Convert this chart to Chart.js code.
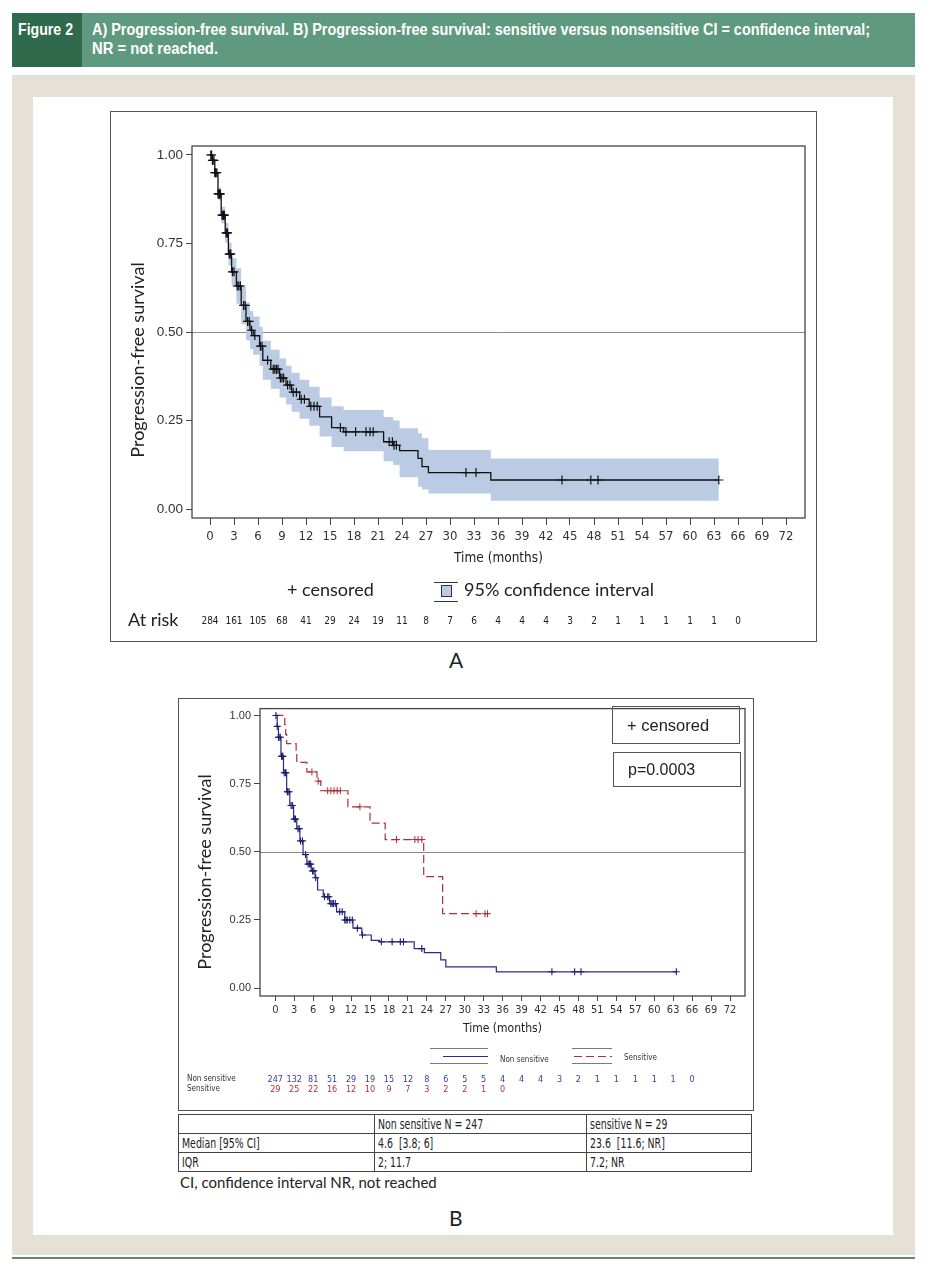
<!DOCTYPE html>
<html>
<head>
<meta charset="utf-8">
<script src="https://cdn.jsdelivr.net/npm/chart.js@4.4.0/dist/chart.umd.min.js"></script>
<style>
body{margin:0;width:930px;height:1274px;position:relative;background:#fff;overflow:hidden;font-family:'Liberation Sans',Arial,sans-serif;color:#222}
.abs{position:absolute}
.fit{white-space:nowrap;transform-origin:0 50%;display:inline-block}
#hdr{left:12px;top:13px;width:903px;height:54px;background:#5f9a80}
#fig{left:12px;top:13px;width:70px;height:54px;background:#2f6a4d}
.hd{color:#fff;font-weight:bold;font-size:16px;line-height:18px}
#beige{left:12px;top:75px;width:903px;height:1180px;background:#e5e1d6}
#panel{left:33px;top:97px;width:860px;height:1138px;background:#fff}
#bottomline{left:12px;top:1257px;width:903px;height:2px;background:#5f8a74}
.box{border:1px solid #555;box-sizing:border-box}
.lab{font-family:Lato,'Open Sans',sans-serif}
table{border-collapse:collapse;font-family:'Liberation Sans Narrow','DejaVu Sans Condensed',sans-serif;font-size:14.5px;color:#222}
td{border:1px solid #444;padding:0 0 0 3px;height:18px;line-height:17px;vertical-align:middle;white-space:nowrap;overflow:hidden}
.nar{display:inline-block;transform:scaleX(0.72);transform-origin:0 50%}
</style>
</head>
<body>
<div id="hdr" class="abs"></div>
<div id="fig" class="abs"></div>
<div class="abs hd" style="left:18px;top:21px"><span class="fit" data-w="55">Figure 2</span></div>
<div class="abs hd" style="left:92px;top:21px"><span class="fit" data-w="778">A) Progression-free survival. B) Progression-free survival: sensitive versus nonsensitive CI = confidence interval;</span></div>
<div class="abs hd" style="left:92px;top:40px"><span class="fit" data-w="126">NR = not reached.</span></div>
<div id="beige" class="abs"></div>
<div id="panel" class="abs"></div>
<div id="bottomline" class="abs"></div>

<!-- panel A -->
<div class="abs box" style="left:110px;top:111px;width:707px;height:531px"></div>
<canvas id="chartA" class="abs" width="705" height="528" style="left:111px;top:112px;width:705px;height:528px"></canvas>
<div class="abs lab" style="left:449px;top:647px;font-size:21px">A</div>

<!-- panel B -->
<div class="abs box" style="left:178px;top:698px;width:576px;height:413px"></div>
<canvas id="chartB" class="abs" width="573" height="410" style="left:179px;top:699px;width:573px;height:410px"></canvas>
<div class="abs box" style="left:612px;top:706px;width:128px;height:38px;font-size:16.5px;line-height:36px;padding-left:14px">+ censored</div>
<div class="abs box" style="left:613px;top:752px;width:128px;height:35px;font-size:16px;line-height:33px;padding-left:14px">p=0.0003</div>

<table class="abs" style="left:178px;top:1114px;width:574px">
<tr><td style="width:192px"></td><td style="width:208px"><span class="nar">Non sensitive N = 247</span></td><td><span class="nar">sensitive N = 29</span></td></tr>
<tr><td><span class="nar">Median [95% CI]</span></td><td><span class="nar">4.6&nbsp; [3.8; 6]</span></td><td><span class="nar">23.6&nbsp; [11.6; NR]</span></td></tr>
<tr><td><span class="nar">IQR</span></td><td><span class="nar">2; 11.7</span></td><td><span class="nar">7.2; NR</span></td></tr>
</table>
<div class="abs lab" style="left:180px;top:1173px;font-size:15px">CI, confidence interval NR, not reached</div>
<div class="abs lab" style="left:449px;top:1205px;font-size:21px">B</div>

<script>
// ---- Panel A: all patients ----
const xTicks = [0, 3, 6, 9, 12, 15, 18, 21, 24, 27, 30, 33, 36, 39, 42, 45, 48, 51, 54, 57, 60, 63, 66, 69, 72];
const yTicks = [0, 0.25, 0.5, 0.75, 1];

const timeA  = [0, 0.3, 0.6, 1.0, 1.4, 1.9, 2.3, 2.7, 3.3, 3.9, 4.5, 5.0, 5.4, 6.2, 6.6, 7.6, 8.7, 9.5, 10.2, 11.2, 12.4, 13.7, 15.2, 16.7, 21.7, 22.9, 23.7, 26.0, 26.5, 27.3, 35.1, 63.6];
const survA  = [1.00, 0.985, 0.95, 0.89, 0.83, 0.78, 0.72, 0.67, 0.63, 0.575, 0.53, 0.505, 0.49, 0.46, 0.42, 0.395, 0.37, 0.35, 0.33, 0.31, 0.29, 0.26, 0.23, 0.218, 0.19, 0.18, 0.165, 0.143, 0.12, 0.103, 0.082, 0.082];
const lowerA = [1.00, 0.98, 0.94, 0.872, 0.807, 0.752, 0.688, 0.632, 0.58, 0.522, 0.477, 0.451, 0.436, 0.405, 0.365, 0.34, 0.315, 0.295, 0.275, 0.255, 0.235, 0.205, 0.175, 0.163, 0.135, 0.124, 0.09, 0.063, 0.055, 0.044, 0.023, 0.023];
const upperA = [1.00, 0.99, 0.96, 0.908, 0.853, 0.808, 0.752, 0.708, 0.68, 0.628, 0.583, 0.559, 0.544, 0.515, 0.475, 0.45, 0.425, 0.405, 0.385, 0.365, 0.345, 0.315, 0.29, 0.28, 0.26, 0.25, 0.228, 0.214, 0.2, 0.167, 0.143, 0.143];
const censorA = [0.1, 0.2, 0.3, 0.35, 0.5, 0.6, 0.7, 0.85, 1.0, 1.1, 1.2, 1.3, 1.5, 1.6, 1.7, 1.8, 2.0, 2.1, 2.2, 2.4, 2.5, 2.6, 2.8, 3.0, 3.4, 3.6, 3.8, 4.2, 4.4, 4.7, 4.9, 5.2, 5.6, 6.3, 6.5, 7.2, 7.9, 8.1, 8.3, 8.5, 8.8, 9.0, 9.2, 9.7, 10.0, 10.4, 10.8, 11.4, 11.8, 12.6, 13.0, 13.4, 16.3, 17.0, 18.2, 19.5, 20.0, 20.4, 22.4, 22.8, 23.0, 23.3, 32.0, 33.25, 44.0, 47.6, 48.5, 63.6];
const atRiskA = [284, 161, 105, 68, 41, 29, 24, 19, 11, 8, 7, 6, 4, 4, 4, 3, 2, 1, 1, 1, 1, 1, 0];

// ---- Panel B: non sensitive vs sensitive ----
const timeNS = [0, 0.3, 0.5, 0.9, 1.3, 1.8, 2.3, 2.9, 3.4, 3.9, 4.4, 5.0, 5.7, 6.3, 6.7, 7.6, 8.6, 9.7, 11.0, 12.3, 13.7, 15.2, 16.5, 22.0, 23.6, 26.2, 27.0, 35.0, 63.5];
const survNS = [1.0, 0.96, 0.92, 0.85, 0.79, 0.72, 0.67, 0.62, 0.585, 0.54, 0.49, 0.455, 0.43, 0.405, 0.36, 0.335, 0.31, 0.28, 0.25, 0.22, 0.195, 0.175, 0.17, 0.145, 0.13, 0.104, 0.078, 0.06, 0.06];
const censorNS = [0.1, 0.3, 0.5, 0.6, 0.8, 1.0, 1.1, 1.2, 1.4, 1.6, 1.7, 1.9, 2.0, 2.2, 2.5, 2.7, 3.0, 3.2, 3.6, 3.8, 4.0, 4.3, 4.8, 5.2, 5.4, 5.6, 5.9, 6.1, 6.4, 7.8, 8.3, 8.5, 8.8, 9.0, 9.2, 9.5, 10.2, 10.6, 11.0, 11.2, 11.4, 11.8, 12.2, 13.0, 13.8, 16.8, 18.5, 19.8, 20.3, 23.2, 43.8, 47.4, 48.4, 63.5];
const timeS  = [0, 1.5, 1.65, 1.8, 3.3, 3.4, 5.0, 6.6, 7.2, 11.5, 15.0, 17.4, 23.5, 26.5, 33.6];
const survS  = [1.0, 0.966, 0.931, 0.897, 0.862, 0.828, 0.793, 0.759, 0.724, 0.665, 0.605, 0.545, 0.409, 0.273, 0.273];
const censorS = [5.8, 6.8, 8.3, 8.8, 9.3, 9.8, 10.3, 13.4, 19.2, 22.1, 22.6, 23.2, 31.8, 33.2, 33.6];
const atRiskNS = [247, 132, 81, 51, 29, 19, 15, 12, 8, 6, 5, 5, 4, 4, 4, 3, 2, 1, 1, 1, 1, 1, 0];
const atRiskS  = [29, 25, 22, 16, 12, 10, 9, 7, 3, 2, 2, 1, 0];

const BAND = 'rgb(186,203,227)';
const NAVY = 'rgb(42,42,140)';
const RED = 'rgb(168,48,58)';
const COND = "'Liberation Sans Narrow','DejaVu Sans Condensed',sans-serif";
const LATO = "Lato,'Open Sans',sans-serif";

// fit header text to the widths seen in the figure
document.querySelectorAll('.fit').forEach(el => {
	const w = el.getBoundingClientRect().width;
	el.style.transform = 'scaleX(' + (el.dataset.w / w) + ')';
});

function survAt(times, surv, t) {
	let s = surv[0];
	for (let i = 0; i < times.length; i++) if (times[i] <= t) s = surv[i];
	return s;
}
function pts(times, vals) {
	return times.map((t, i) => ({x: t, y: vals[i]}));
}
function censorPts(list, times, surv) {
	return list.map(t => ({x: t, y: survAt(times, surv, t)}));
}

//frame around plot + grey line at 0.5
const framePlugin = {
	id: 'frameRef',
	beforeDatasetsDraw(chart) {
		const {ctx, chartArea: a, scales: {y}} = chart;
		const yy = Math.round(y.getPixelForValue(0.5)) + 0.5;
		ctx.save();
		ctx.strokeStyle = '#8a8a8a';
		ctx.lineWidth = 1;
		ctx.beginPath(); ctx.moveTo(a.left, yy); ctx.lineTo(a.right, yy); ctx.stroke();
		ctx.restore();
	},
	afterDatasetsDraw(chart) {
		const {ctx, chartArea: a} = chart;
		ctx.save();
		ctx.strokeStyle = '#444';
		ctx.lineWidth = 1.3;
		ctx.strokeRect(a.left, a.top, a.right - a.left, a.bottom - a.top);
		ctx.restore();
	}
};

function axes(o) {
	return {
		x: {
			type: 'linear', min: o.xmin, max: o.xmax,
			afterBuildTicks: s => { s.ticks = xTicks.map(v => ({value: v})); },
			afterFit: s => { s.height = o.xh; },
			ticks: {font: {family: COND, size: o.xf}, color: '#333', padding: o.xpad, maxRotation: 0, autoSkip: false},
			grid: {drawOnChartArea: false, tickLength: o.tl, color: '#444', lineWidth: 1},
			border: {display: false}
		},
		y: {
			type: 'linear', min: o.ymin, max: o.ymax,
			afterBuildTicks: s => { s.ticks = yTicks.map(v => ({value: v})); },
			afterFit: s => { s.width = o.yw; },
			ticks: {font: {family: "'Liberation Sans',Arial,sans-serif", size: o.yf}, color: '#333', padding: 3,
				callback: v => Number(v).toFixed(2)},
			grid: {drawOnChartArea: false, tickLength: 6, color: '#444', lineWidth: 1},
			border: {display: false}
		}
	};
}

// ---------- chart A ----------
const textA = {
	id: 'textA',
	afterDraw(chart) {
		const {ctx, chartArea: a, scales: {x}} = chart;
		ctx.save();
		ctx.fillStyle = '#222';
		ctx.textBaseline = 'middle';
		// y title
		ctx.save();
		ctx.translate(27, 248);
		ctx.rotate(-Math.PI / 2);
		ctx.textAlign = 'center';
		ctx.font = '18px ' + LATO;
		ctx.fillText('Progression-free survival', 0, 0);
		ctx.restore();
		// x title
		ctx.textAlign = 'center';
		ctx.font = '13.5px ' + COND;
		ctx.fillText('Time (months)', (a.left + a.right) / 2, 446);
		// legend
		ctx.textAlign = 'left';
		ctx.font = '18px ' + LATO;
		ctx.fillText('+ censored', 176, 478);
		ctx.fillText('95% confidence interval', 353, 478);
		ctx.strokeStyle = '#333';
		ctx.lineWidth = 1;
		ctx.beginPath();
		ctx.moveTo(323, 470.5); ctx.lineTo(347, 470.5);
		ctx.moveTo(323, 489.5); ctx.lineTo(347, 489.5);
		ctx.stroke();
		ctx.fillStyle = BAND;
		ctx.fillRect(330.5, 473.5, 10, 11);
		ctx.strokeRect(330.5, 473.5, 10, 11);
		// at risk
		ctx.fillStyle = '#222';
		ctx.fillText('At risk', 17, 508);
		ctx.textAlign = 'center';
		ctx.font = '10px ' + COND;
		atRiskA.forEach((n, i) => ctx.fillText(String(n), x.getPixelForValue(i * 3), 509));
		ctx.restore();
	}
};

new Chart(document.getElementById('chartA'), {
	type: 'line',
	data: {
		datasets: [{
			data: censorPts(censorA, timeA, survA),
			showLine: false, pointStyle: 'cross', pointRadius: 4.5,
			borderColor: '#111', borderWidth: 1.2, order: 0
		}, {
			data: pts(timeA, survA),
			stepped: true, borderColor: '#111', borderWidth: 1.3, pointRadius: 0, fill: false, order: 1
		}, {
			data: pts(timeA, upperA),
			stepped: true, borderColor: 'rgba(0,0,0,0)', borderWidth: 0, pointRadius: 0,
			fill: '+1', backgroundColor: BAND, order: 2
		}, {
			data: pts(timeA, lowerA),
			stepped: true, borderColor: 'rgba(0,0,0,0)', borderWidth: 0, pointRadius: 0, fill: false, order: 3
		}]
	},
	options: {
		responsive: false, animation: false, events: [],
		layout: {padding: {left: 0, top: 34, right: 11, bottom: 82}},
		plugins: {legend: {display: false}, tooltip: {enabled: false}},
		scales: axes({xmin: -2.25, xmax: 74.375, ymin: -0.0254, ymax: 1.0254, xh: 40, yw: 81, xf: 13, yf: 13.5, xpad: 4, tl: 7})
	},
	plugins: [framePlugin, textA]
});

// ---------- chart B ----------
const textB = {
	id: 'textB',
	afterDraw(chart) {
		const {ctx, chartArea: a, scales: {x}} = chart;
		ctx.save();
		ctx.fillStyle = '#222';
		ctx.textBaseline = 'middle';
		ctx.save();
		ctx.translate(26, 173);
		ctx.rotate(-Math.PI / 2);
		ctx.textAlign = 'center';
		ctx.font = '18px ' + LATO;
		ctx.fillText('Progression-free survival', 0, 0);
		ctx.restore();
		ctx.textAlign = 'center';
		ctx.font = '12px ' + COND;
		ctx.fillText('Time (months)', (a.left + a.right) / 2, 330);
		// legend lines
		ctx.lineWidth = 1;
		ctx.strokeStyle = '#7a7a7a';
		ctx.beginPath();
		ctx.moveTo(251, 349.5); ctx.lineTo(309, 349.5);
		ctx.moveTo(251, 364.5); ctx.lineTo(309, 364.5);
		ctx.moveTo(393, 349.5); ctx.lineTo(433, 349.5);
		ctx.moveTo(393, 364.5); ctx.lineTo(433, 364.5);
		ctx.stroke();
		ctx.strokeStyle = NAVY;
		ctx.beginPath(); ctx.moveTo(264, 357.5); ctx.lineTo(309, 357.5); ctx.stroke();
		ctx.strokeStyle = RED;
		ctx.setLineDash([8, 4]);
		ctx.beginPath(); ctx.moveTo(395, 357.5); ctx.lineTo(433, 357.5); ctx.stroke();
		ctx.setLineDash([]);
		ctx.textAlign = 'left';
		ctx.font = '8px ' + COND;
		ctx.fillStyle = '#333';
		ctx.fillText('Non sensitive', 321, 361);
		ctx.fillText('Sensitive', 445, 359);
		// at risk
		ctx.fillText('Non sensitive', 8, 380);
		ctx.fillText('Sensitive', 8, 390);
		ctx.textAlign = 'center';
		ctx.font = '9px ' + COND;
		ctx.fillStyle = 'rgb(60,60,155)';
		atRiskNS.forEach((n, i) => ctx.fillText(String(n), x.getPixelForValue(i * 3), 381));
		ctx.fillStyle = 'rgb(175,50,55)';
		atRiskS.forEach((n, i) => ctx.fillText(String(n), x.getPixelForValue(i * 3), 391));
		ctx.restore();
	}
};

new Chart(document.getElementById('chartB'), {
	type: 'line',
	data: {
		datasets: [{
			data: censorPts(censorS, timeS, survS),
			showLine: false, pointStyle: 'cross', pointRadius: 3.5,
			borderColor: RED, borderWidth: 1, order: 0
		}, {
			data: censorPts(censorNS, timeNS, survNS),
			showLine: false, pointStyle: 'cross', pointRadius: 3.5,
			borderColor: 'rgb(30,30,110)', borderWidth: 1.1, order: 1
		}, {
			data: pts(timeS, survS),
			stepped: true, borderColor: RED, borderWidth: 1.2, borderDash: [8, 4], pointRadius: 0, fill: false, order: 2
		}, {
			data: pts(timeNS, survNS),
			stepped: true, borderColor: NAVY, borderWidth: 1.2, pointRadius: 0, fill: false, order: 3
		}]
	},
	options: {
		responsive: false, animation: false, events: [],
		layout: {padding: {left: 0, top: 4, right: 7, bottom: 83}},
		plugins: {legend: {display: false}, tooltip: {enabled: false}},
		scales: axes({xmin: -2.42, xmax: 74.375, ymin: -0.0288, ymax: 1.0252, xh: 30, yw: 81, xf: 11, yf: 11, xpad: 3, tl: 5})
	},
	plugins: [framePlugin, textB]
});
</script>
</body>
</html>
